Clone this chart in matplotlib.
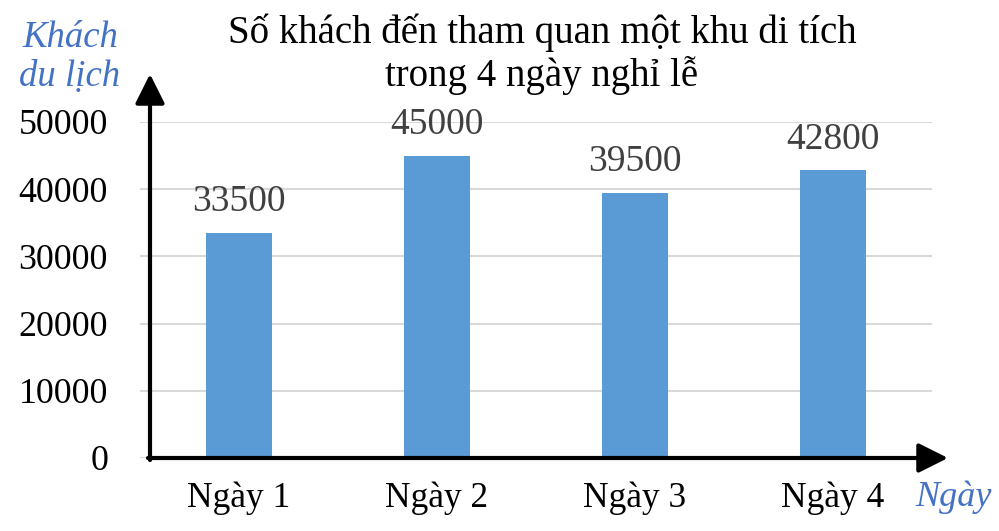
import matplotlib.pyplot as plt
import numpy as np

# data
days = ['Ngày 1', 'Ngày 2', 'Ngày 3', 'Ngày 4']
visitors = [33500, 45000, 39500, 42800]
yticks = [0, 10000, 20000, 30000, 40000, 50000]

plt.rcParams['font.family'] = ['Liberation Serif', 'DejaVu Serif']

W, H = 999, 531
fig = plt.figure(figsize=(W / 100, H / 100), dpi=100)

# axes box in pixel coords: left 140, right 932, top 122 (50000), bottom 458 (0)
ax = fig.add_axes([140 / W, 1 - 458 / H, (932 - 140) / W, (458 - 122) / H])

x = np.arange(len(days))
bars = ax.bar(x, visitors, width=1 / 3, color='#5B9BD5', zorder=3)

for xi, v in zip(x, visitors):
    ax.text(xi, v + 2000, str(v), ha='center', va='bottom', fontsize=27, color='#404040')

ax.set_xlim(-0.5, 3.5)
ax.set_ylim(0, 50000)
ax.set_yticks(yticks)
ax.set_yticklabels([str(t) for t in yticks], fontsize=25.8)
ax.set_xticks(x)
ax.set_xticklabels(days, fontsize=25.5)
ax.tick_params(axis='y', length=0, pad=23)
ax.tick_params(axis='x', length=0, pad=17)
ax.grid(axis='y', color='#d9d9d9', linewidth=1.5, zorder=0)
ax.set_axisbelow(True)
for s in ax.spines.values():
    s.set_visible(False)

# black arrow axes, drawn in figure pixel coords
def px(xp, yp):
    return (xp / W, 1 - yp / H)

arrow = dict(arrowstyle='-|>,head_length=0.9,head_width=0.45', lw=3, color='black',
             shrinkA=0, shrinkB=0)
fig.add_artist(plt.matplotlib.patches.FancyArrowPatch(px(150, 460), px(150, 74),
               transform=fig.transFigure, mutation_scale=20, **arrow))
fig.add_artist(plt.matplotlib.patches.FancyArrowPatch(px(148, 458), px(948, 458),
               transform=fig.transFigure, mutation_scale=20, **arrow))

# title and axis names
fig.text(542 / W, 1 - 33 / H, 'Số khách đến tham quan một khu di tích',
         ha='center', va='center', fontsize=28)
fig.text(542 / W, 1 - 76 / H, 'trong 4 ngày nghỉ lễ',
         ha='center', va='center', fontsize=28)
fig.text(70 / W, 1 - 38 / H, 'Khách', ha='center', va='center', fontsize=26.5,
         style='italic', color='#4472C4')
fig.text(70 / W, 1 - 77 / H, 'du lịch', ha='center', va='center', fontsize=26.5,
         style='italic', color='#4472C4')
fig.text(953 / W, 1 - 497 / H, 'Ngày', ha='center', va='center', fontsize=26,
         style='italic', color='#4472C4')

fig.savefig('out.png', dpi=100)
